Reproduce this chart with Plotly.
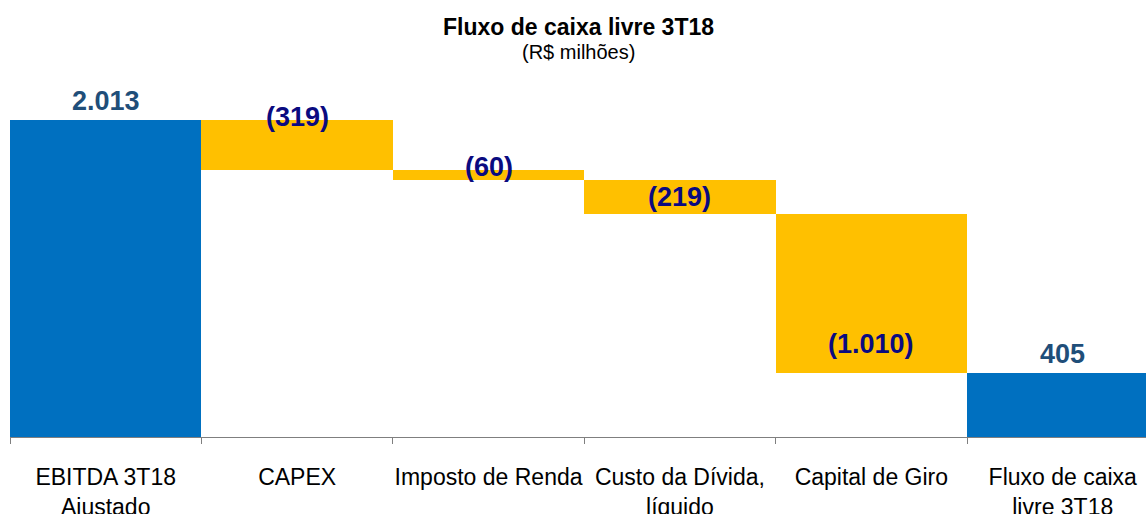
import plotly.graph_objects as go

categories = ["EBITDA 3T18<br>Ajustado", "CAPEX", "Imposto de Renda", "Custo da Dívida,<br>líquido",
              "Capital de Giro", "Fluxo de caixa<br>livre 3T18"]
values = [2013, -319, -60, -219, -1010, 405]
measures = ["absolute", "relative", "relative", "relative", "relative", "total"]
labels = ["2.013", "(319)", "(60)", "(219)", "(1.010)", "405"]

BLUE = "#0070C0"
YELLOW = "#FFC000"
LBL_BLUE = "#1F4E79"
LBL_NAVY = "#0A0A80"
FONT = "Liberation Sans, Arial, sans-serif"

fig = go.Figure(go.Waterfall(
    x=list(range(len(categories))),
    y=values,
    measure=measures,
    totals=dict(marker=dict(color=BLUE, line=dict(width=0))),
    increasing=dict(marker=dict(color=BLUE, line=dict(width=0))),
    decreasing=dict(marker=dict(color=YELLOW, line=dict(width=0))),
    connector=dict(visible=False),
    hoverinfo="skip",
))

annotations = []
running = 0
placement = ["above", "top", "top", "middle", "bottom", "above"]
for i, (v, m) in enumerate(zip(values, measures)):
    if m == "absolute":
        lo, hi = 0, v
        running = v
    elif m == "total":
        lo, hi = 0, running
    else:
        prev = running
        running = prev + v
        lo, hi = min(prev, running), max(prev, running)
    mode = placement[i]
    color = LBL_BLUE if m != "relative" else LBL_NAVY
    if mode == "above":
        y, ya, ys = hi, "bottom", 2
    elif mode == "top":
        y, ya, ys = hi, "middle", 3
    elif mode == "middle":
        y, ya, ys = (lo + hi) / 2, "middle", 0
    else:
        y, ya, ys = lo, "bottom", 12
    annotations.append(dict(x=i, y=y, xref="x", yref="y", text=labels[i], showarrow=False,
                            yanchor=ya, yshift=ys,
                            font=dict(family=FONT, size=27, color=color, weight="bold")))

annotations.append(dict(x=0.5, y=(437 - 27) / 317, xref="paper", yref="paper",
                        text="<b>Fluxo de caixa livre 3T18</b>", showarrow=False,
                        xanchor="center", yanchor="middle",
                        font=dict(family=FONT, size=23, color="#000000")))
annotations.append(dict(x=0.5, y=(437 - 52) / 317, xref="paper", yref="paper",
                        text="(R$ milhões)", showarrow=False,
                        xanchor="center", yanchor="middle",
                        font=dict(family=FONT, size=20, color="#000000")))

fig.update_layout(
    width=1146, height=514,
    margin=dict(l=10, r=0, t=120, b=77),
    paper_bgcolor="white", plot_bgcolor="white",
    showlegend=False,
    waterfallgap=0,
    annotations=annotations,
    xaxis=dict(
        tickmode="array", tickvals=list(range(len(categories))), ticktext=categories,
        range=[-0.5, 5.435],
        showline=True, linecolor="#7F7F7F", linewidth=1,
        ticks="", showgrid=False, zeroline=False,
        tickfont=dict(family=FONT, size=23, color="#000000"),
        ticklabelstandoff=19, automargin=False,
    ),
    yaxis=dict(range=[0, 2013], visible=False, showgrid=False, zeroline=False, automargin=False),
)

fig.update_xaxes(minor=dict(tickmode="array", tickvals=[i - 0.5 for i in range(len(categories) + 1)],
                            ticks="outside", ticklen=6, tickcolor="#7F7F7F", tickwidth=1))

fig.write_html("out.html", config={"displayModeBar": False},
               post_script="document.body.style.margin='0px';document.body.style.overflow='hidden';")
